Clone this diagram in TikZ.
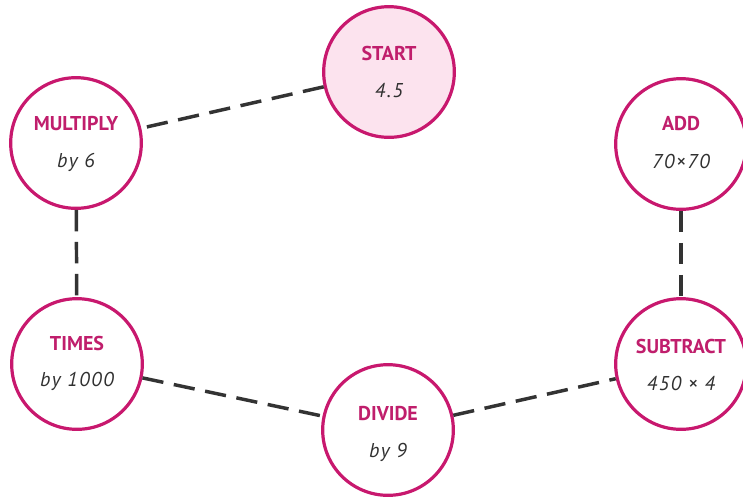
\documentclass[tikz,border=0pt]{standalone}
\usepackage{fontspec}
\setmainfont{PT Sans}
\newfontfamily\valfont[LetterSpace=8]{PT Sans}
\definecolor{rim}{HTML}{C8186E}
\definecolor{ttl}{HTML}{C01E6C}
\definecolor{startfill}{HTML}{FCE3EE}
\definecolor{dashcol}{HTML}{333333}
\definecolor{valcol}{HTML}{303030}
\tikzset{
  station/.style={circle, draw=rim, line width=2.4pt, minimum size=98pt, inner sep=0pt, fill=white},
  ttlstyle/.style={text=ttl, font=\bfseries\fontsize{15}{15}\selectfont},
  valstyle/.style={text=valcol, font=\valfont\itshape\fontsize{15}{15}\selectfont},
  link/.style={draw=dashcol, line width=2.6pt, dash pattern=on 16pt off 8pt}
}
\begin{document}
\begin{tikzpicture}[x=0.75pt,y=-0.75pt]
\useasboundingbox (0,0) rectangle (743,497);
\node[station, fill=startfill] (start) at (389,72) {};
\node[station] (mult) at (76,143) {};
\node[station] (add) at (681,144) {};
\node[station] (times) at (77,364) {};
\node[station] (div) at (388,430) {};
\node[station] (sub) at (681,364) {};
\draw[link] (start) -- (mult);
\draw[link] (mult) -- (times);
\draw[link] (times) -- (div);
\draw[link] (div) -- (sub);
\draw[link] (add) -- (sub);
\node[ttlstyle] (t1) at (389,53) {START};
\node[valstyle] (v1) at (389,91) {4.5};
\node[ttlstyle] (t2) at (76,124) {MULTIPLY};
\node[valstyle] (v2) at (76,162) {by 6};
\node[ttlstyle] (t3) at (681,124) {ADD};
\node[valstyle] (v3) at (681,161) {70×70};
\node[ttlstyle] (t4) at (77,343) {TIMES};
\node[valstyle] (v4) at (77,381) {by 1000};
\node[ttlstyle] (t5) at (388,414) {DIVIDE};
\node[valstyle] (v5) at (388,452) {by 9};
\node[ttlstyle] (t6) at (681,346) {SUBTRACT};
\node[valstyle] (v6) at (681,383) {450 × 4};
\end{tikzpicture}
\end{document}
